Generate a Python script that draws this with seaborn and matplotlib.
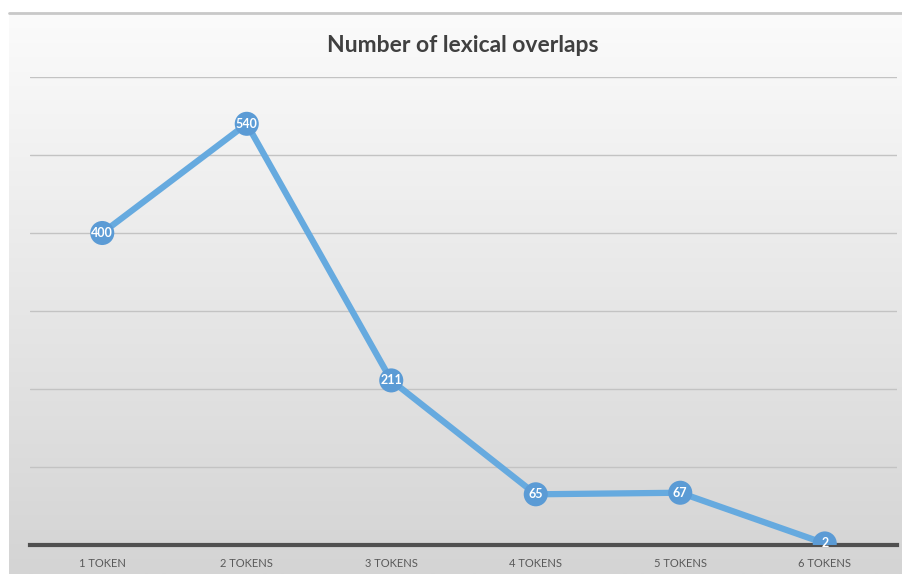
import numpy as np
import pandas as pd
import matplotlib
matplotlib.use("Agg")
import matplotlib.pyplot as plt
import seaborn as sns

categories = ["1 TOKEN", "2 TOKENS", "3 TOKENS", "4 TOKENS", "5 TOKENS", "6 TOKENS"]
overlaps = [400, 540, 211, 65, 67, 2]
y_ticks = [0, 100, 200, 300, 400, 500, 600]

df = pd.DataFrame({"tokens": categories, "overlaps": overlaps})

sns.set_theme(style="white")
plt.rcParams["font.family"] = ["Lato", "DejaVu Sans"]

fig = plt.figure(figsize=(9.03, 5.74), dpi=100)
fig.patch.set_facecolor("white")

# gradient chart area, like the Excel style
bg = fig.add_axes([9 / 903, 0, 1 - 9 / 903, 561 / 574])
grad = np.linspace(0, 1, 256).reshape(-1, 1)
bg.imshow(grad, aspect="auto", cmap=matplotlib.colors.LinearSegmentedColormap.from_list(
    "bg", ["#fbfbfb", "#d4d4d4"]), extent=[0, 1, 0, 1], origin="upper")
bg.set_axis_off()
fig.add_artist(plt.Line2D([9 / 903, 1], [561 / 574, 561 / 574], color="#c8c8c8",
                          lw=2, transform=fig.transFigure))

ax = fig.add_axes([30 / 903, 29 / 574, 867 / 903, 468 / 574])
ax.set_facecolor("none")

sns.lineplot(data=df, x="tokens", y="overlaps", ax=ax, color="#66aadf",
             linewidth=4.5, sort=False, zorder=3)
ax.scatter(range(len(categories)), overlaps, s=300, color="#5b9bd5", zorder=4,
           edgecolor="none")
for i, v in enumerate(overlaps):
    ax.text(i, v, str(v), ha="center", va="center", color="white",
            fontsize=9, fontweight="bold", zorder=5)

ax.set_xlim(-0.5, len(categories) - 0.5)
ax.set_ylim(y_ticks[0], y_ticks[-1])
ax.set_yticks(y_ticks)
ax.yaxis.grid(True, color="#c3c3c3", linewidth=1)
ax.set_axisbelow(True)
ax.tick_params(axis="y", left=False, labelleft=False)
ax.tick_params(axis="x", bottom=False, labelsize=8, labelcolor="#595959", pad=3.5)
for s in ["top", "right", "left"]:
    ax.spines[s].set_visible(False)
ax.spines["bottom"].set_color("#505050")
ax.spines["bottom"].set_linewidth(3)
ax.spines["bottom"].set_zorder(2)
ax.set_xlabel("")
ax.set_ylabel("")

fig.text(463 / 903, 1 - 45 / 574, "Number of lexical overlaps", ha="center", va="center",
         fontsize=16.5, fontweight="bold", color="#404040")

fig.savefig("out.png", dpi=100)
